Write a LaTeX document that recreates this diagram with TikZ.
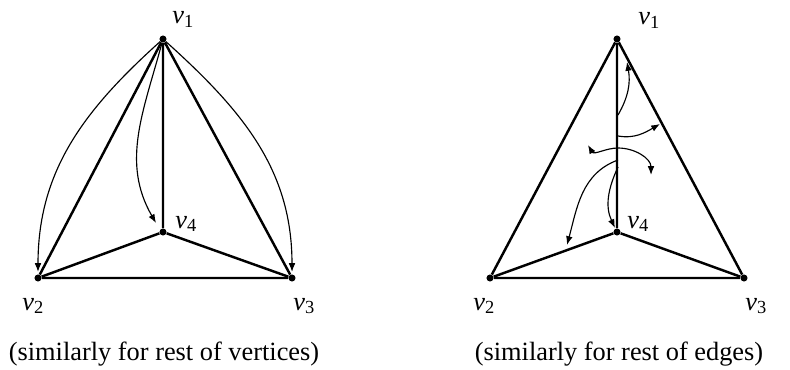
\documentclass[tikz,border=0pt]{standalone}
\usepackage{fontspec}
\setmainfont{Liberation Serif}
\usepackage{tikz}
\usetikzlibrary{arrows.meta}

\newcommand{\vl}[1]{\textit{v}\textsubscript{#1}}

\begin{document}
\begin{tikzpicture}[x=0.02cm, y=0.02cm,
    vtx/.style={circle, fill=black, inner sep=0pt, minimum size=4pt},
    edge/.style={line width=1.4pt},
    arr/.style={line width=0.65pt, -{Latex[length=5pt, width=3.8pt]}},
    lab/.style={anchor=base west, inner sep=0pt, font=\fontsize{15}{18}\selectfont},
    captxt/.style={anchor=base, inner sep=0pt, font=\fontsize{15}{18}\selectfont}]

\useasboundingbox (0,0) rectangle (790,369);

% left graph: one vertex
\node[vtx] (l1) at (163,330) {};
\node[vtx] (l2) at (38,91) {};
\node[vtx] (l3) at (292,91) {};
\node[vtx] (l4) at (163,137) {};

\draw[edge] (l1) -- (l2) -- (l3) -- (l1) -- (l4);
\draw[edge] (l2) -- (l4) -- (l3);

\coordinate (l2tip) at (38,97);
\coordinate (l3tip) at (292,97);
\coordinate (l4tip) at (156,146);
\draw[arr] (l1) to[out=222, in=90] (l2tip);
\draw[arr] (l1) to[out=-42, in=90] (l3tip);
\draw[arr] (l1) to[out=255, in=120] (l4tip);

\node[lab] (l1lab) at (172,345) {\vl{1}};
\node[lab] (l2lab) at (22,59) {\vl{2}};
\node[lab] (l3lab) at (293,59) {\vl{3}};
\node[lab] (l4lab) at (175,141) {\vl{4}};
\node[captxt] (lcap) at (164,9) {(similarly for rest of vertices)};

% right graph: one edge
\node[vtx] (r1) at (617,330) {};
\node[vtx] (r2) at (490,91) {};
\node[vtx] (r3) at (744,91) {};
\node[vtx] (r4) at (617,137) {};

\draw[edge] (r1) -- (r2) -- (r3) -- (r1) -- (r4);
\draw[edge] (r2) -- (r4) -- (r3);

\coordinate (ra0) at (618,254);
\coordinate (ra1) at (627,307);
\coordinate (rb0) at (618,233);
\coordinate (rb1) at (660,245);
\coordinate (rc0) at (588,224);
\coordinate (rcm) at (618,221);
\coordinate (rc1) at (651,194);
\coordinate (rd0) at (618,209);
\coordinate (rd1) at (567,124);
\coordinate (re0) at (618,202);
\coordinate (re1) at (615,141);
\draw[arr] (ra0) to[out=60, in=-80] (ra1);
\draw[arr] (rb0) to[out=-10, in=210] (rb1);
\draw[arr, {Latex[length=5pt, width=3.8pt]}-{Latex[length=5pt, width=3.8pt]}] (rc0) to[out=-60, in=180] (rcm) to[out=0, in=90] (rc1);
\draw[arr] (rd0) to[out=200, in=75] (rd1);
\draw[arr] (re0) to[out=245, in=115] (re1);

\node[lab] (r1lab) at (638,344) {\vl{1}};
\node[lab] (r2lab) at (473,59) {\vl{2}};
\node[lab] (r3lab) at (745,59) {\vl{3}};
\node[lab] (r4lab) at (627,141) {\vl{4}};
\node[captxt] (rcap) at (619,9) {(similarly for rest of edges)};

\end{tikzpicture}
\end{document}
